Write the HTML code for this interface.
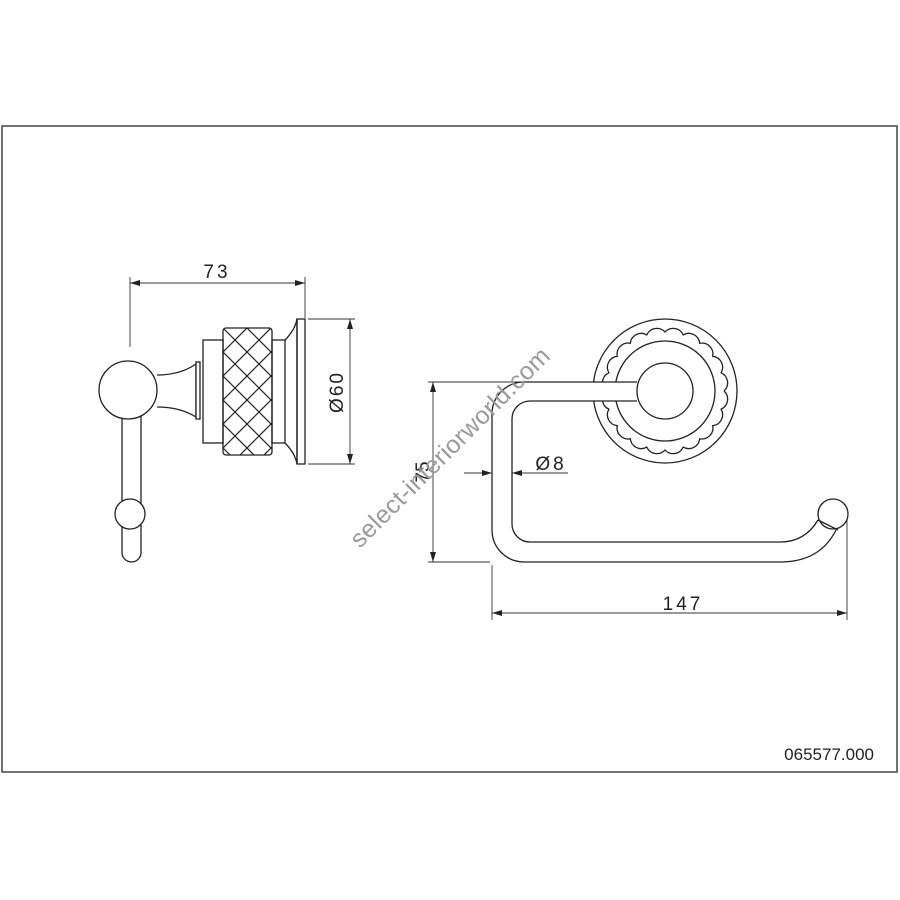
<!DOCTYPE html>
<html><head><meta charset="utf-8"><style>
html,body{margin:0;padding:0;background:#fff;width:900px;height:900px;overflow:hidden}
svg{display:block}
text{font-family:"Liberation Sans",Arial,sans-serif;fill:#222}
</style></head><body>
<svg width="900" height="900" viewBox="0 0 900 900" xmlns="http://www.w3.org/2000/svg">
<defs>
<marker id="a" viewBox="0 0 10 6" refX="10" refY="3" markerWidth="14" markerHeight="6" markerUnits="userSpaceOnUse" orient="auto-start-reverse"><path d="M0,0 L10,3 L0,6 z" fill="#222"/></marker>
<pattern id="kp" width="24" height="24" patternUnits="userSpaceOnUse" x="223" y="328"><path d="M0,0 L24,24 M24,0 L0,24 M-12,12 L0,24 M12,-12 L24,0 M24,24 L36,12 M0,0 L-12,12" stroke="#222" stroke-width="1.2" fill="none"/></pattern>
</defs>
<rect x="2" y="126" width="895" height="646" fill="none" stroke="#444" stroke-width="1.5"/>

<g fill="none" stroke="#222" stroke-width="1.3">
<rect x="122" y="400" width="19" height="162" rx="9.5" fill="#fff"/>
<circle cx="130" cy="514" r="15" fill="#fff"/>
<path d="M157,375 Q180,375 196,364 L196,417 Q180,407 157,407" fill="#fff"/>
<rect x="196" y="362" width="4" height="57" fill="#fff"/>
<circle cx="128" cy="390" r="29" fill="#fff"/>
<rect x="203" y="340" width="20" height="103"/>
<rect x="223" y="328" width="49" height="127" rx="3" fill="url(#kp)"/>
<rect x="272" y="340" width="13" height="103"/>
<path d="M285,340 Q295,330 297,319 L297,464 Q295,453 285,443"/>
<rect x="297" y="319" width="8" height="145"/>

<circle cx="665" cy="391" r="72"/>
<circle cx="665" cy="391" r="50"/>
<path id="sc" d=""/>
<rect x="560" y="382" width="80" height="19" fill="#fff" stroke="none"/>
<path d="M637,382 L524,382 A32,32 0 0 0 492,414 L492,530 A32,32 0 0 0 524,562 L780,562 Q820,562 836,530"/>
<path d="M637,401 L530,401 A18,18 0 0 0 512,419 L512,524 A18,18 0 0 0 530,542 L780,542 Q805,542 818,520"/>
<circle cx="665" cy="391" r="28" fill="#fff"/>
<circle cx="833" cy="514" r="15" fill="#fff"/>
<path d="M818,520 L838,530"/>
</g>

<g stroke="#333" stroke-width="0.9" fill="none">
<line x1="130" y1="277" x2="130" y2="347"/>
<line x1="305" y1="277" x2="305" y2="318"/>
<line x1="130" y1="283" x2="305" y2="283" marker-start="url(#a)" marker-end="url(#a)"/>
<line x1="308" y1="319" x2="355" y2="319"/>
<line x1="308" y1="464" x2="355" y2="464"/>
<line x1="350" y1="319" x2="350" y2="464" marker-start="url(#a)" marker-end="url(#a)"/>
<line x1="428" y1="382" x2="520" y2="382"/>
<line x1="428" y1="562" x2="490" y2="562"/>
<line x1="433" y1="382" x2="433" y2="562" marker-start="url(#a)" marker-end="url(#a)"/>
<line x1="464" y1="473" x2="492" y2="473" marker-end="url(#a)"/>
<line x1="568" y1="473" x2="512" y2="473" marker-end="url(#a)"/>
<line x1="492" y1="565" x2="492" y2="620"/>
<line x1="847" y1="520" x2="847" y2="620"/>
<line x1="492" y1="613" x2="847" y2="613" marker-start="url(#a)" marker-end="url(#a)"/>
</g>
<text x="217" y="278" font-size="19" text-anchor="middle" letter-spacing="3">73</text>
<text transform="translate(343,392) rotate(-90)" font-size="19" text-anchor="middle" letter-spacing="2">Ø60</text>
<text transform="translate(429,472) rotate(-90)" font-size="19" text-anchor="middle">75</text>
<text x="551" y="470" font-size="19" text-anchor="middle" letter-spacing="3">Ø8</text>
<text x="683" y="610" font-size="19" text-anchor="middle" letter-spacing="3">147</text>
<text x="874" y="760" font-size="17" text-anchor="end">065577.000</text>
<text transform="translate(360,549) rotate(-45)" font-size="25" style="fill:#9a9a9a" letter-spacing="0.3">select-interiorworld.com</text>

<script>
var d="",n=20,R=59,cx=665,cy=391;
for(var i=0;i<=n;i++){var t=i*2*Math.PI/n,x=cx+R*Math.cos(t),y=cy+R*Math.sin(t);
d+=(i?"A11,11 0 0 1 ":"M")+x.toFixed(1)+","+y.toFixed(1)+" ";}
document.getElementById("sc").setAttribute("d",d);
</script>
</svg>
</body></html>
